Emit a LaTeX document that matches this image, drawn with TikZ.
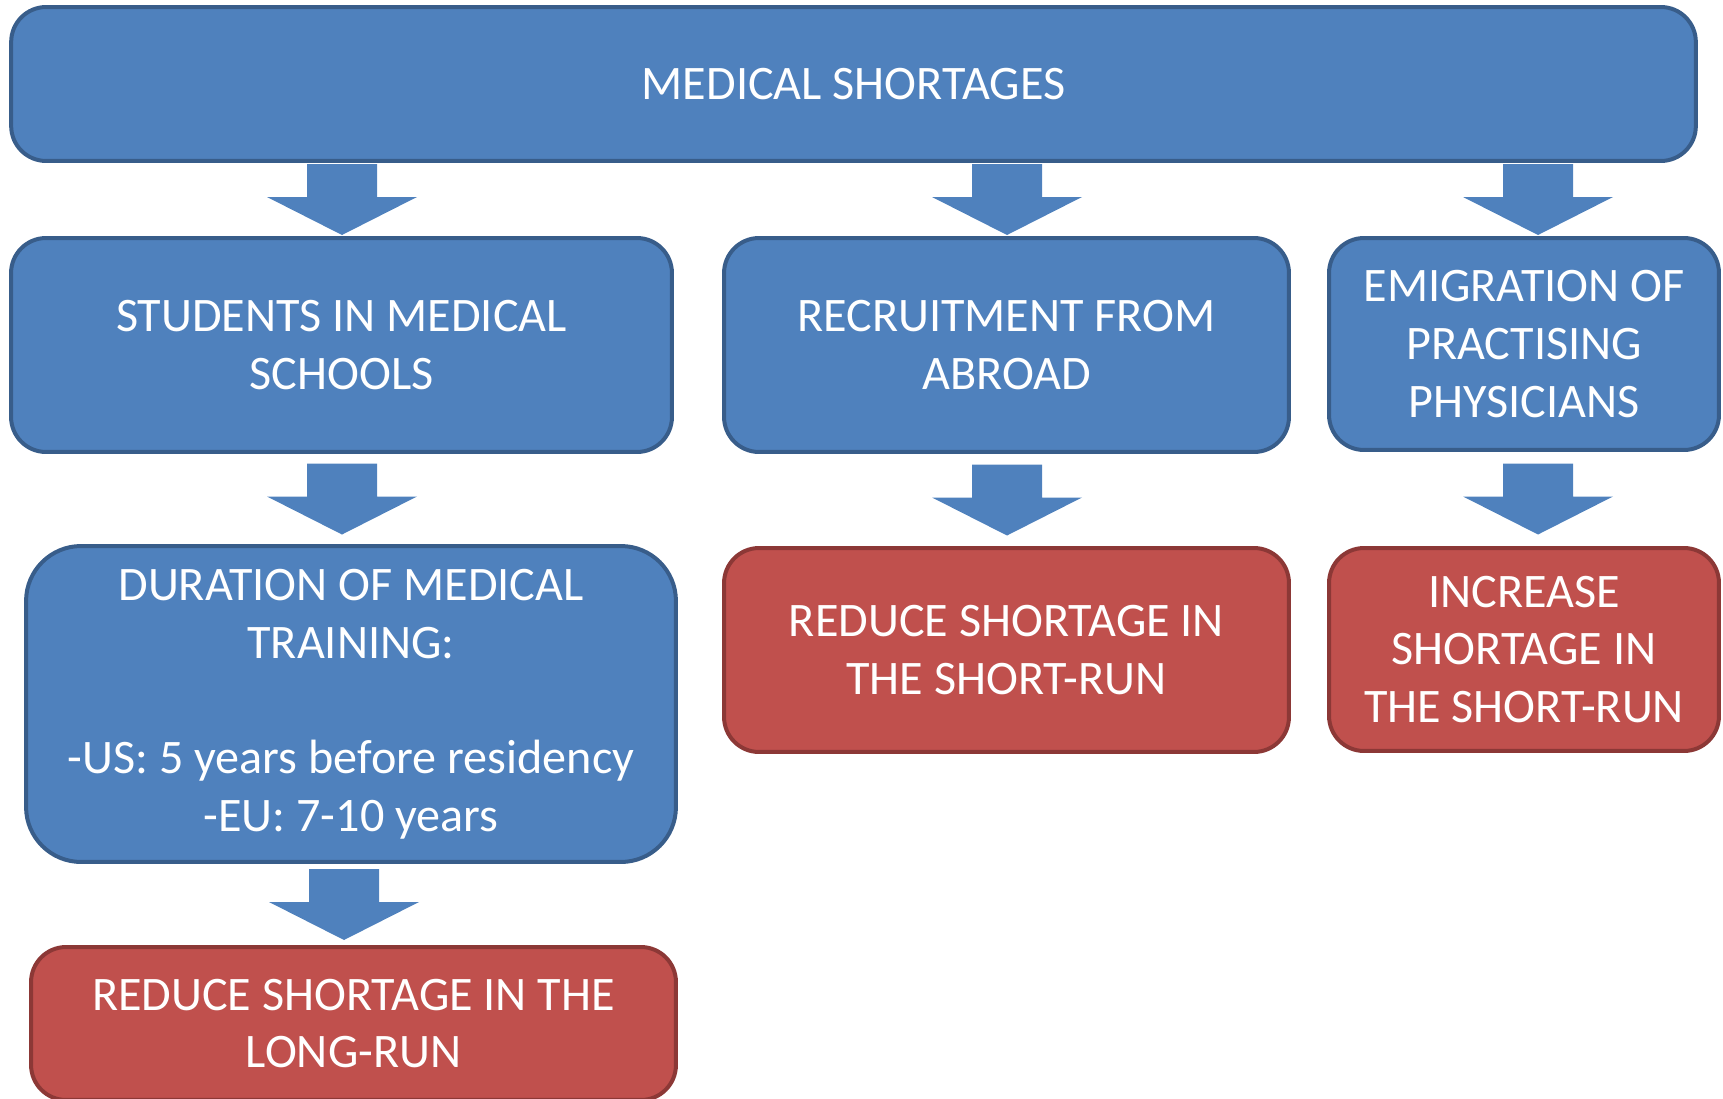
\documentclass[tikz,border=0pt]{standalone}
\usepackage{fontspec}
\setmainfont{Carlito}
\usetikzlibrary{calc}

\definecolor{boxblue}{HTML}{4F81BD}
\definecolor{boxblueline}{HTML}{385D8A}
\definecolor{boxred}{HTML}{C0504D}
\definecolor{boxredline}{HTML}{8C3836}

% fat down arrow in column #1, halfway between #2 and #3
\newcommand{\blockarrow}[3]{%
  \path ($(#1 |- #2.south)!0.5!(#1 |- #3.north)$) coordinate (m);
  \fill[boxblue] (m) +(-35,-35.5) -- +(35,-35.5) -- +(35,-2.5) -- +(75,-2.5)
    -- +(0,35.5) -- +(-75,-2.5) -- +(-35,-2.5) -- cycle;}

\begin{document}
\begin{tikzpicture}[x=0.02cm,y=-0.02cm,
    every node/.style={text=white,align=center,font=\fontsize{27.4}{32.8}\selectfont}]
  \tikzstyle{bluebox}=[draw=boxblueline,fill=boxblue,line width=0.08cm,rounded corners=0.7cm]
  \tikzstyle{redbox}=[draw=boxredline,fill=boxred,line width=0.08cm,rounded corners=0.7cm]
  \useasboundingbox (0,0) rectangle (1723,1098);

  \node[bluebox,minimum width=33.7cm,minimum height=3.08cm] (short) at (853.5,84) {MEDICAL SHORTAGES};

  \node[bluebox,minimum width=13.22cm,minimum height=4.28cm] (students) at (341.5,345) {STUDENTS IN MEDICAL\\SCHOOLS};
  \node[bluebox,minimum width=11.3cm,minimum height=4.28cm] (recruit) at (1006.5,345) {RECRUITMENT FROM\\ABROAD};
  \node[bluebox,minimum width=7.8cm,minimum height=4.24cm] (emig) at (1524,344) {EMIGRATION OF\\PRACTISING\\PHYSICIANS};

  \node[bluebox,rounded corners=1.1cm,minimum width=13cm,minimum height=6.32cm] (duration) at (351,704)
    {DURATION OF MEDICAL\\TRAINING:\\~\\-US: 5 years before residency\\-EU: 7-10 years};
  \node[redbox,minimum width=11.3cm,minimum height=4.08cm] (reduceS) at (1006.5,650) {REDUCE SHORTAGE IN\\THE SHORT-RUN};
  \node[redbox,minimum width=7.8cm,minimum height=4.06cm] (increase) at (1524,649.5) {INCREASE\\SHORTAGE IN\\THE SHORT-RUN};

  \node[redbox,minimum width=12.9cm,minimum height=3.06cm] (reduceL) at (353.5,1023.5) {REDUCE SHORTAGE IN THE\\LONG-RUN};

  % arrow columns
  \coordinate (colA) at (342,0);
  \coordinate (colB) at (1007,0);
  \coordinate (colC) at (1538,0);
  \coordinate (colD) at (344,0);

  \blockarrow{colA}{short}{students}
  \blockarrow{colB}{short}{recruit}
  \blockarrow{colC}{short}{emig}
  \blockarrow{colA}{students}{duration}
  \blockarrow{colB}{recruit}{reduceS}
  \blockarrow{colC}{emig}{increase}
  \blockarrow{colD}{duration}{reduceL}
\end{tikzpicture}
\end{document}
